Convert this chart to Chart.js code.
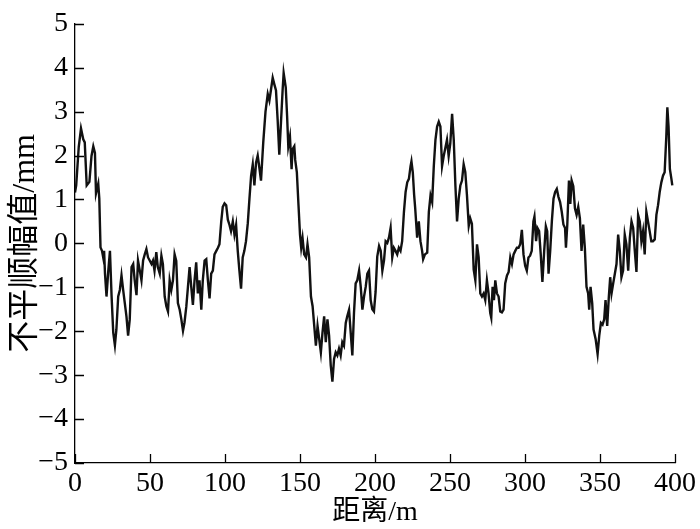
<!DOCTYPE html>
<html>
<head>
<meta charset="utf-8">
<script src="https://cdn.jsdelivr.net/npm/chart.js@4/dist/chart.umd.min.js"></script>
<style>
  html, body { margin: 0; padding: 0; background: #fff; }
  #wrap { width: 700px; height: 529px; }
</style>
</head>
<body>
<div id="wrap"><canvas id="chart" width="700" height="529"></canvas></div>
<script>
// distance along track (m) and irregularity amplitude (mm)
const distance = [
  0, 0.8, 2.5, 4, 5.5, 6.5, 7.8, 9.6, 11, 12.2, 13.3, 14, 15.5, 16.2, 17, 18, 18.8, 19.4, 20, 21,
  22.2, 23.3, 24.4, 25.5, 26.6, 27.6, 28.8, 29.9, 31, 32.1, 33.2, 34.3, 35.4, 36.5, 37.7, 38.8, 39.8, 41, 42, 43.2,
  44.3, 45.4, 46.5, 47.6, 48.7, 49.8, 51, 52, 53, 54.2, 55.2, 56.5, 57.6, 58.6, 59.8, 60.9, 62, 63.1, 64.2, 65.3,
  66.4, 67.5, 68.6, 69.8, 70.9, 72, 73, 74.2, 75.3, 76.4, 77.5, 78.6, 79.7, 80.8, 81.9, 83, 84.2, 85.2, 86.4, 87.5,
  88.6, 89.7, 90.8, 91.9, 93, 94.2, 95.3, 96.3, 97.5, 98.5, 99.7, 100.8, 101.9, 103, 104, 105.2, 106.3, 107.4, 108.5, 109.6,
  110.7, 111.8, 112.9, 114, 115.2, 116.3, 117.4, 118.5, 119.6, 120.7, 121.8, 123, 124, 125.5, 127, 128.5, 129.6, 130.7, 131.8, 132.9,
  134, 135.1, 136.2, 137.3, 138.4, 139.1, 140.5, 141.4, 142.2, 143.3, 144.4, 145, 146.2, 146.8, 147.9, 149, 150, 150.8, 151.7, 152.8,
  154, 155, 156.1, 157.3, 158.4, 159.5, 160.6, 161.7, 162.8, 163.9, 165, 166.1, 167.2, 168.3, 169.4, 170.5, 171.6, 172.7, 173.8, 174.9,
  176, 177.1, 178.2, 179.3, 180.5, 181.5, 182.7, 183.8, 184.9, 186, 187.1, 188.2, 189.4, 190.5, 191.6, 192.7, 193.8, 194.9, 196, 197.1,
  198.2, 199.3, 200.4, 201.5, 202.7, 203.8, 204.9, 206, 207.1, 208.2, 209.3, 210.4, 211.5, 212.6, 213.7, 214.8, 215.9, 217, 218.1, 219.3,
  220.4, 221.5, 222.6, 223.7, 224.3, 225.2, 226.1, 226.8, 228.1, 229.2, 230.3, 231.4, 232.1, 233.3, 234.8, 235.9, 237, 238.1, 239.2, 240.3,
  241.4, 242.5, 243.6, 244.7, 245.8, 246.9, 248, 249.1, 250.2, 251.4, 252.5, 253.6, 254.7, 255.8, 256.9, 258, 259.1, 260.2, 261.3, 262.5,
  263.5, 264.6, 265.8, 266.9, 268, 269.1, 270.2, 271.3, 272.4, 273.5, 274.6, 275.7, 276.8, 277.5, 278.4, 279.3, 280.2, 281.3, 282.4, 283.5,
  284.6, 285.7, 286.8, 288, 289.1, 290.2, 291.3, 292.4, 293.5, 294.6, 295.7, 296.8, 297.9, 299, 300.1, 301.2, 302.3, 303.4, 304.5, 305.6,
  306.3, 307.4, 308.3, 309.4, 310.5, 311.6, 312.8, 313.9, 314.8, 315.7, 316.8, 317.9, 319, 320.1, 321.2, 322.3, 323.4, 324.5, 325.6, 326.7,
  327.3, 328.2, 329.3, 330.2, 331.1, 332.2, 333.3, 334.4, 335.5, 336.6, 337.7, 338.8, 339.9, 341, 342.1, 342.8, 343.7, 344.8, 345.7, 347.1,
  348.4, 349.5, 350.6, 351.7, 352.8, 353.7, 354.8, 355.9, 356.8, 357.7, 358.8, 359.9, 361, 362.1, 363.2, 364.3, 365.4, 366.5, 367.6, 368.8,
  369.9, 371, 372.1, 373.2, 374.3, 375.4, 376.5, 377.6, 378.7, 379.8, 380.9, 382, 383.1, 384.2, 385.3, 386.5, 387.6, 388.7, 389.8, 390.9,
  392, 393.1, 394.2, 394.9, 395.7, 396.6, 397.6, 398.2
];
const amplitude = [
  1.16, 1.32, 2.2, 2.62, 2.37, 2.3, 1.32, 1.4, 1.99, 2.21, 2.06, 1.14, 1.36, 1.02, -0.09, -0.17, -0.32, -0.17, -0.69, -1.21,
  -0.62, -0.17, -1.21, -2.03, -2.32, -1.96, -1.21, -1.06, -0.73, -1.06, -1.36, -1.66, -2.1, -1.73, -0.54, -0.47, -0.84, -1.18, -0.39, -0.62,
  -0.84, -0.39, -0.25, -0.13, -0.32, -0.39, -0.47, -0.39, -0.62, -0.2, -0.54, -0.69, -0.28, -0.47, -1.21, -1.43, -1.55, -0.84, -1.06, -0.84,
  -0.25, -0.4, -1.36, -1.51, -1.73, -1.99, -1.8, -1.44, -0.99, -0.54, -0.99, -1.4, -0.84, -0.43, -1.14, -0.84, -1.51, -0.84, -0.39, -0.36,
  -0.84, -1.25, -0.69, -0.62, -0.25, -0.17, -0.1, -0.02, 0.5, 0.83, 0.91, 0.87, 0.54, 0.42, 0.28, 0.5, 0.2, 0.42, -0.17, -0.62,
  -1.03, -0.32, -0.17, 0.05, 0.46, 1.02, 1.54, 1.8, 1.32, 1.84, 2.0, 1.7, 1.43, 2.3, 3.0, 3.4, 3.25, 3.51, 3.77, 3.62,
  3.48, 2.81, 2.02, 2.74, 3.48, 3.88, 3.55, 2.9, 2.21, 2.43, 1.69, 2.14, 2.21, 1.9, 1.62, 0.87, 0.2, -0.1, 0.12, -0.25,
  -0.32, -0.02, -0.32, -1.21, -1.43, -1.88, -2.33, -1.88, -2.18, -2.48, -2.03, -1.66, -2.25, -1.73, -2.1, -2.78, -3.15, -2.63, -2.48, -2.55,
  -2.4, -2.55, -2.25, -2.33, -1.81, -1.66, -1.51, -2.03, -2.55, -1.58, -0.91, -0.84, -0.62, -0.99, -1.51, -1.21, -0.99, -0.69, -0.62, -1.29,
  -1.5, -1.55, -1.1, -0.3, -0.06, -0.17, -0.62, -0.39, 0.05, 0.01, 0.13, 0.35, -0.32, -0.1, -0.17, -0.25, -0.1, -0.17, 0.05, 0.72,
  1.17, 1.39, 1.47, 1.76, 1.87, 1.62, 1.1, 0.8, 0.13, 0.5, 0.05, -0.17, -0.36, -0.25, -0.21, 0.72, 1.09, 0.94, 1.76, 2.36,
  2.66, 2.77, 2.66, 1.76, 1.99, 2.17, 2.36, 1.99, 2.28, 2.95, 2.36, 1.32, 0.5, 1.02, 1.32, 1.43, 1.8, 1.62, 1.1, 0.4,
  0.57, 0.45, -0.6, -0.84, -0.02, -0.32, -1.14, -1.21, -1.14, -1.29, -0.84, -1.14, -1.58, -1.69, -0.99, -1.29, -0.84, -1.14, -1.21, -1.55,
  -1.57, -1.51, -0.91, -0.73, -0.65, -0.32, -0.47, -0.25, -0.17, -0.1, -0.1, -0.02, 0.31, -0.25, -0.51, -0.62, -0.32, -0.28, -0.17, 0.5,
  0.61, 0.05, 0.35, 0.28, -0.25, -0.88, -0.17, 0.39, 0.28, -0.69, -0.17, 0.5, 1.02, 1.17, 1.24, 1.06, 0.94, 0.72, 0.43, 0.35,
  -0.1, 0.43, 1.43, 0.9, 1.43, 1.3, 0.8, 0.65, 0.83, 0.57, -0.17, 0.43, -0.1, -0.99, -1.14, -1.51, -0.99, -1.36, -1.96, -2.18,
  -2.52, -2.1, -1.81, -1.85, -1.73, -1.29, -1.88, -1.21, -0.77, -1.14, -0.91, -0.69, -0.47, 0.2, -0.17, -0.77, -0.62, 0.2, -0.02, -0.62,
  0.13, 0.5, 0.35, -0.17, -0.65, 0.65, 0.5, 0.05, 0.28, -0.25, 0.72, 0.5, 0.28, 0.05, 0.05, 0.09, 0.65, 0.87, 1.17, 1.39,
  1.54, 1.62, 2.43, 3.1, 2.66, 1.69, 1.47, 1.32
];
const xTicks = [0, 50, 100, 150, 200, 250, 300, 350, 400];
const yTicks = [-5, -4, -3, -2, -1, 0, 1, 2, 3, 4, 5];

const serif = "'Liberation Serif', 'Times New Roman', serif";
const cjk = "'Liberation Serif', 'Noto Sans CJK SC', serif";

// minus sign like the print original
const fmt = v => (v < 0 ? '\u2212' + Math.abs(v) : String(v));

// ticks point into the plot, drawn from the scales' own positions
const inwardTicks = {
    id: 'inwardTicks',
    afterDraw(chart) {
        const { ctx, chartArea, scales } = chart;
        const len = 9;
        ctx.save();
        ctx.strokeStyle = '#000';
        ctx.lineWidth = 1.3;
        ctx.beginPath();
        xTicks.forEach(v => {
            const px = Math.round(scales.x.getPixelForValue(v)) + 0.5;
            ctx.moveTo(px, chartArea.bottom);
            ctx.lineTo(px, chartArea.bottom - len);
        });
        yTicks.forEach(v => {
            const py = Math.round(scales.y.getPixelForValue(v)) + 0.5;
            ctx.moveTo(chartArea.left, py);
            ctx.lineTo(chartArea.left + len, py);
        });
        ctx.stroke();
        ctx.restore();
    }
};

const points = distance.map((d, i) => ({ x: d, y: amplitude[i] }));

new Chart(document.getElementById('chart'), {
    type: 'line',
    data: {
        datasets: [{
            data: points,
            borderColor: '#111',
            borderWidth: 2.4,
            pointRadius: 0,
            tension: 0,
            fill: false
        }]
    },
    options: {
        responsive: false,
        animation: false,
        layout: { padding: { top: 15, right: 23, left: 0, bottom: 0 } },
        plugins: { legend: { display: false }, tooltip: { enabled: false } },
        scales: {
            x: {
                type: 'linear',
                min: 0, max: 400,
                afterFit: s => { s.height = 66; },
                afterBuildTicks: s => { s.ticks = xTicks.map(v => ({ value: v })); },
                grid: { drawOnChartArea: false, drawTicks: false },
                border: { display: true, color: '#000', width: 1.3 },
                ticks: { color: '#000', padding: 4, maxRotation: 0, autoSkip: false, font: { family: serif, size: 28 } },
                title: { display: true, text: '距离/m', color: '#000', padding: 0, font: { family: cjk, size: 28 } }
            },
            y: {
                min: -5, max: 5,
                afterFit: s => { s.width = 75; },
                afterBuildTicks: s => { s.ticks = yTicks.map(v => ({ value: v })); },
                grid: { drawOnChartArea: false, drawTicks: false },
                border: { display: true, color: '#000', width: 1.3 },
                ticks: { color: '#000', padding: 7, autoSkip: false, callback: fmt, font: { family: serif, size: 28 } },
                title: { display: true, text: '不平顺幅值/mm', color: '#000', padding: { top: 6, bottom: 0 }, font: { family: cjk, size: 32 } }
            }
        }
    },
    plugins: [inwardTicks]
});
</script>
</body>
</html>
